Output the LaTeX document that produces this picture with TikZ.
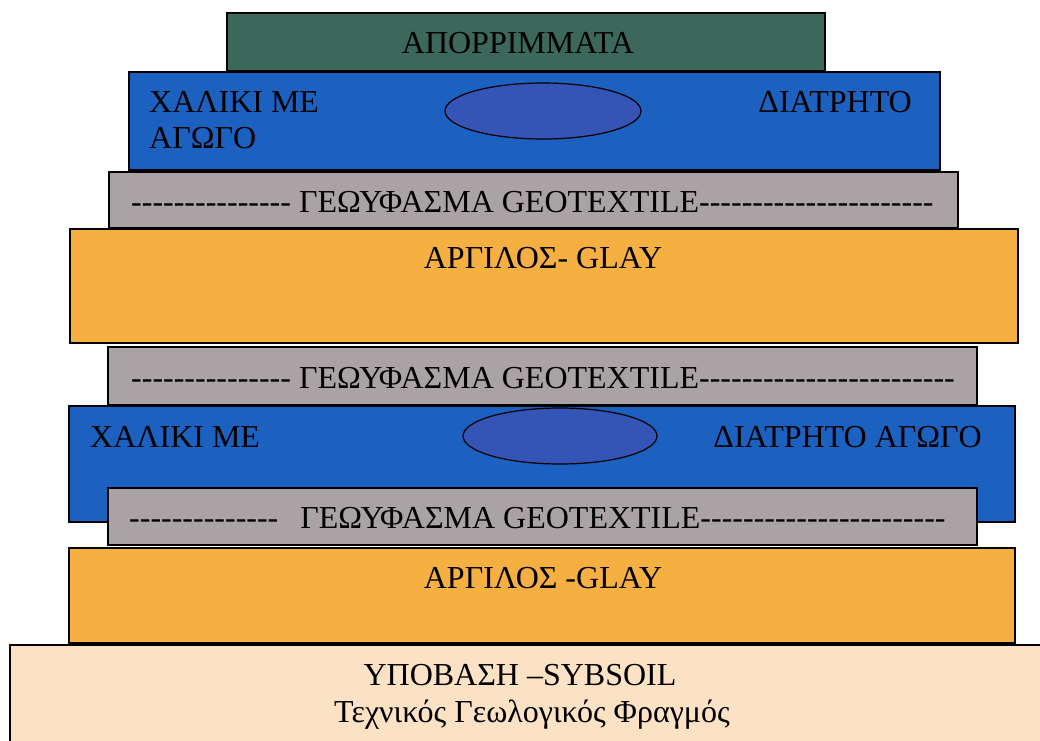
\documentclass[tikz,border=0pt]{standalone}
\usepackage{fontspec}
\setmainfont{Liberation Serif}[Ligatures=TeXOff]
\definecolor{wasteg}{RGB}{60,104,92}
\definecolor{gravelb}{RGB}{28,96,192}
\definecolor{pipeb}{RGB}{52,84,182}
\definecolor{geogray}{RGB}{170,163,166}
\definecolor{clayor}{RGB}{246,176,66}
\definecolor{soilbg}{RGB}{252,226,196}
\begin{document}
\begin{tikzpicture}[x=1pt,y=-1pt,
  layer/.style={draw=black,line width=1.6pt},
  lbl/.style={font=\fontsize{32}{38}\selectfont, inner sep=0pt, text=black}]
\useasboundingbox (0,0) rectangle (1040,740);
\fill[white] (0,0) rectangle (1040,740);
\begin{scope}
\clip (0,0) rectangle (1040,740);
% waste
\draw[layer,fill=wasteg] (227,13) rectangle (825,71);
% gravel 1
\draw[layer,fill=gravelb] (129,72) rectangle (940,170);
\draw[line width=1.2pt,fill=pipeb] (543,111) ellipse [x radius=98, y radius=28];
% geotextile 1
\draw[layer,fill=geogray] (109,172) rectangle (958,228);
% clay 1
\draw[layer,fill=clayor] (70,229) rectangle (1018,343);
% geotextile 2
\draw[layer,fill=geogray] (108,347) rectangle (977,405);
% gravel 2
\draw[layer,fill=gravelb] (69,406) rectangle (1015,522);
\draw[line width=1.2pt,fill=pipeb] (560,436) ellipse [x radius=97, y radius=28];
% geotextile 3
\draw[layer,fill=geogray] (108,488) rectangle (977,545);
% clay 2
\draw[layer,fill=clayor] (69,548) rectangle (1015,643);
% subsoil
\draw[layer,fill=soilbg] (1050,645) -- (10,645) -- (10,750) -- (1050,750) -- cycle;
\end{scope}
% labels
\node[lbl,anchor=base] (waste) at (518,53) {ΑΠΟΡΡΙΜΜΑΤΑ};
\node[lbl,anchor=base west] (g1a) at (149,112) {ΧΑΛΙΚΙ ΜΕ};
\node[lbl,anchor=base west] (g1b) at (149,148) {ΑΓΩΓΟ};
\node[lbl,anchor=base east] (g1c) at (912,112) {ΔΙΑΤΡΗΤΟ};
\node[lbl,anchor=base west] (geo1) at (131,212) {--------------- ΓΕΩΥΦΑΣΜΑ GEOTEXTILE----------------------};
\node[lbl,anchor=base] (clay1) at (543,268) {ΑΡΓΙΛΟΣ- GLAY};
\node[lbl,anchor=base west] (geo2) at (131,388) {--------------- ΓΕΩΥΦΑΣΜΑ GEOTEXTILE------------------------};
\node[lbl,anchor=base west] (g2a) at (90,447) {ΧΑΛΙΚΙ ΜΕ};
\node[lbl,anchor=base east] (g2b) at (982,447) {ΔΙΑΤΡΗΤΟ ΑΓΩΓΟ};
\node[lbl,anchor=base west] (geo3) at (129,528) {--------------\hspace{22pt}ΓΕΩΥΦΑΣΜΑ GEOTEXTILE-----------------------};
\node[lbl,anchor=base] (clay2) at (543,588) {ΑΡΓΙΛΟΣ -GLAY};
\node[lbl,anchor=base] (soil1) at (520,685) {ΥΠΟΒΑΣΗ –SYBSOIL};
\node[lbl,anchor=base] (soil2) at (532,722) {Τεχνικός Γεωλογικός Φραγμός};
\end{tikzpicture}
\end{document}
